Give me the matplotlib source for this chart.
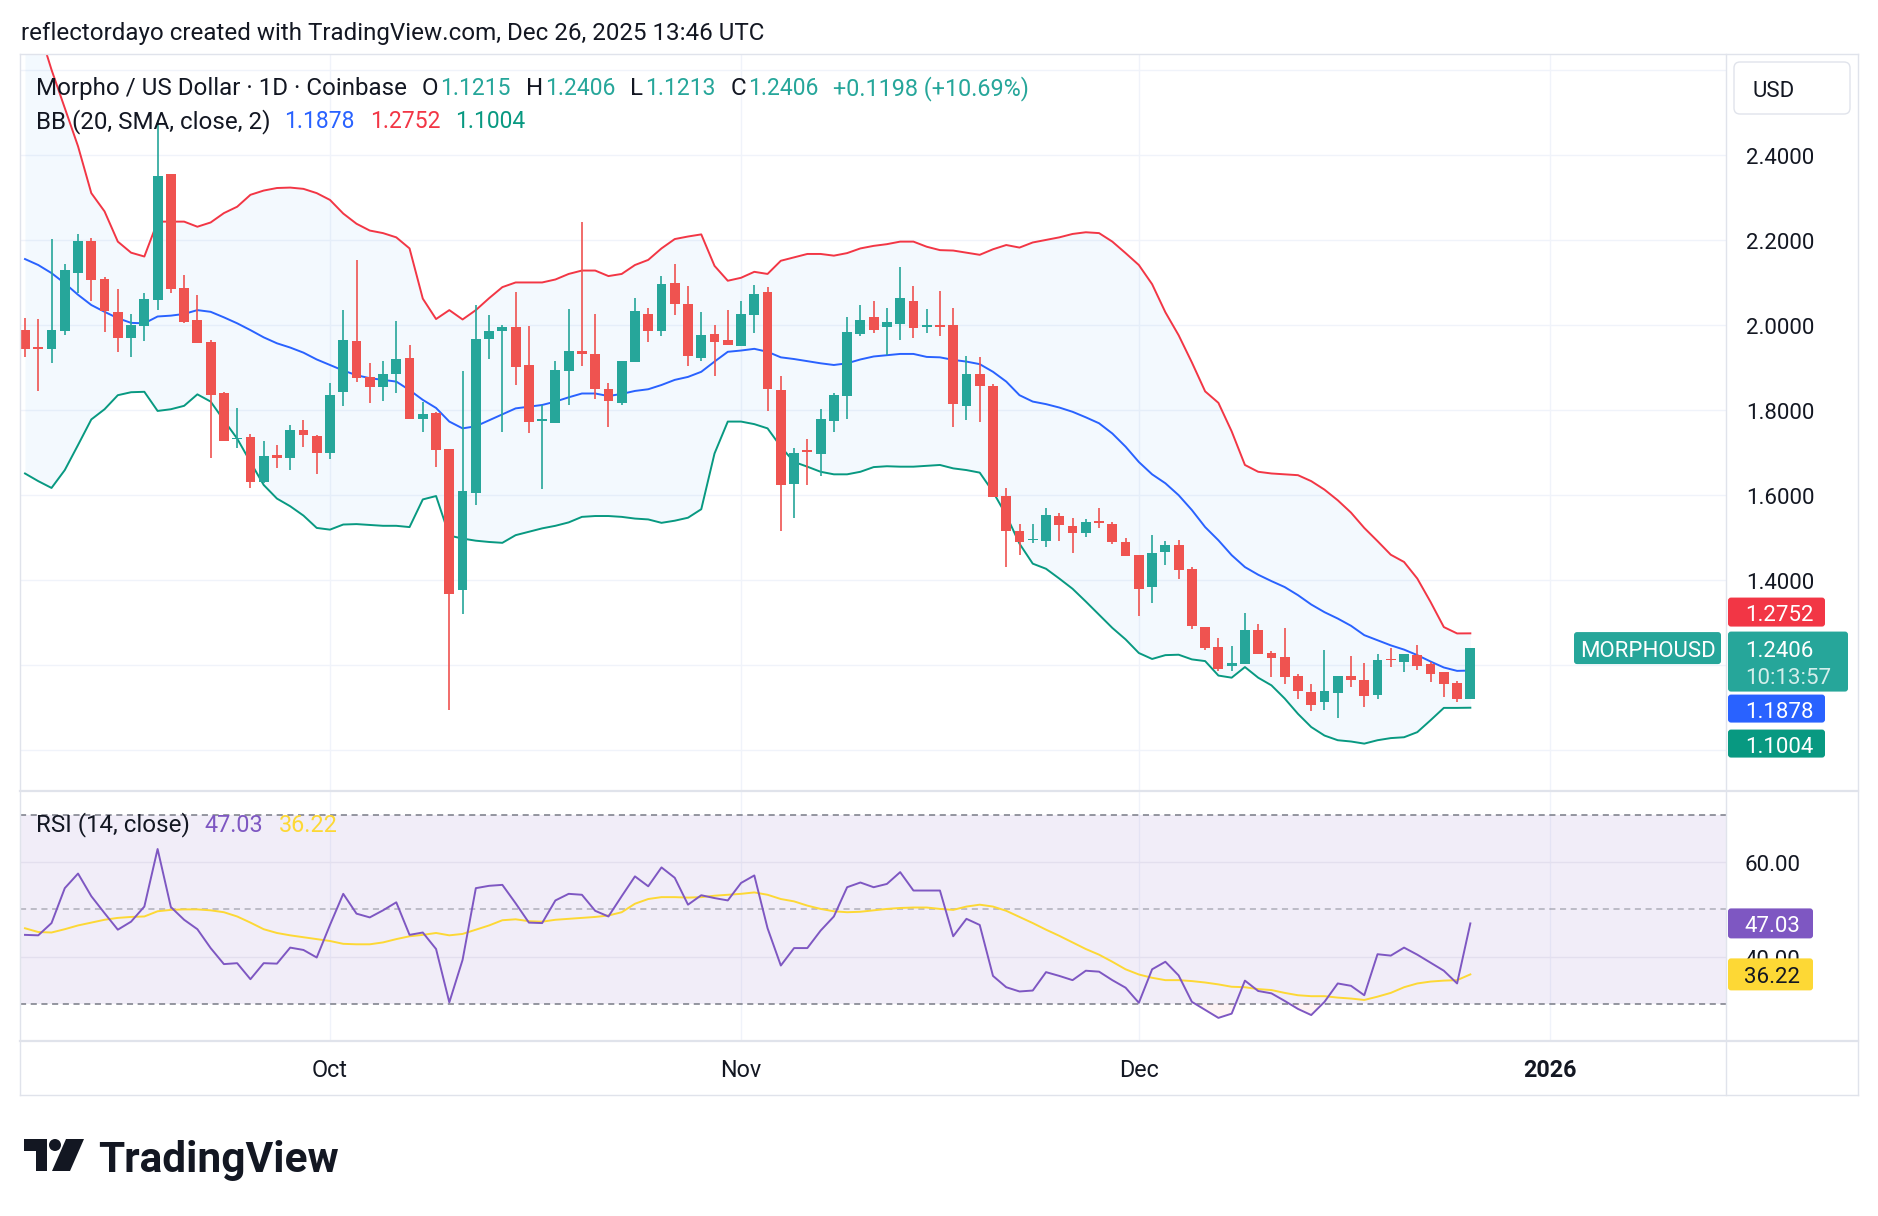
import numpy as np
import pandas as pd
import matplotlib
matplotlib.use('Agg')
import matplotlib.pyplot as plt
from matplotlib.patches import FancyBboxPatch, Circle, Polygon
from matplotlib.lines import Line2D

plt.rcParams['font.family'] = ['Roboto', 'DejaVu Sans']

# daily candles, Sep 8 -> Dec 26 2025 (MORPHOUSD, Coinbase)
dates = pd.date_range('2025-09-08', '2025-12-26', freq='D')

opens = [1.988, 1.948, 1.944, 1.987, 2.123, 2.198, 2.108, 2.031, 1.970, 1.998,
         2.059, 2.355, 2.086, 2.012, 1.961, 1.841, 1.731, 1.736, 1.631, 1.694,
         1.688, 1.753, 1.739, 1.700, 1.843, 1.962, 1.877, 1.855, 1.884, 1.922,
         1.780, 1.792, 1.708, 1.378, 1.605, 1.968, 1.987, 1.995, 1.906, 1.774,
         1.770, 1.892, 1.939, 1.932, 1.849, 1.817, 1.914, 2.027, 1.987, 2.099,
         2.049, 1.923, 1.978, 1.965, 1.951, 2.024, 2.078, 1.847, 1.626, 1.706,
         1.696, 1.775, 1.833, 1.980, 2.019, 1.996, 2.002, 2.056, 1.996, 1.999,
         2.000, 1.810, 1.885, 1.857, 1.598, 1.515, 1.494, 1.493, 1.551, 1.527,
         1.510, 1.539, 1.533, 1.489, 1.459, 1.383, 1.467, 1.482, 1.427, 1.290,
         1.242, 1.198, 1.204, 1.282, 1.230, 1.220, 1.175, 1.137, 1.114, 1.136,
         1.175, 1.166, 1.131, 1.214, 1.209, 1.224, 1.202, 1.184, 1.158, 1.1215]
highs = [2.016, 2.013, 2.202, 2.143, 2.213, 2.204, 2.114, 2.085, 2.027, 2.075,
         2.481, 2.356, 2.118, 2.071, 1.965, 1.842, 1.804, 1.744, 1.727, 1.718,
         1.765, 1.776, 1.741, 1.864, 2.035, 2.153, 1.910, 1.915, 2.009, 1.953,
         1.819, 1.796, 1.708, 1.892, 2.047, 2.024, 2.000, 2.078, 1.998, 1.812,
         1.915, 2.038, 2.242, 2.027, 1.863, 1.915, 2.063, 2.039, 2.115, 2.144,
         2.092, 2.030, 2.000, 2.035, 2.056, 2.094, 2.089, 1.880, 1.712, 1.733,
         1.802, 1.839, 2.018, 2.046, 2.056, 2.039, 2.136, 2.092, 2.038, 2.080,
         2.039, 1.927, 1.924, 1.861, 1.616, 1.533, 1.532, 1.571, 1.557, 1.547,
         1.543, 1.569, 1.537, 1.500, 1.459, 1.506, 1.493, 1.494, 1.430, 1.290,
         1.264, 1.245, 1.323, 1.297, 1.233, 1.288, 1.179, 1.156, 1.235, 1.176,
         1.222, 1.205, 1.226, 1.241, 1.226, 1.249, 1.209, 1.184, 1.164, 1.2406]
lows = [1.925, 1.845, 1.911, 1.976, 2.076, 2.057, 1.984, 1.937, 1.925, 1.963,
        2.035, 2.075, 2.004, 1.957, 1.688, 1.727, 1.711, 1.616, 1.628, 1.663,
        1.660, 1.714, 1.649, 1.685, 1.809, 1.867, 1.816, 1.821, 1.839, 1.779,
        1.749, 1.667, 1.094, 1.320, 1.578, 1.920, 1.749, 1.859, 1.747, 1.615,
        1.770, 1.813, 1.904, 1.826, 1.761, 1.812, 1.914, 1.961, 1.973, 2.024,
        1.904, 1.916, 1.881, 1.954, 1.951, 1.982, 1.798, 1.516, 1.547, 1.624,
        1.645, 1.749, 1.779, 1.973, 1.982, 1.929, 1.965, 1.970, 1.982, 1.973,
        1.761, 1.776, 1.773, 1.596, 1.431, 1.459, 1.488, 1.478, 1.492, 1.463,
        1.502, 1.522, 1.486, 1.456, 1.315, 1.347, 1.437, 1.404, 1.286, 1.235,
        1.187, 1.187, 1.204, 1.227, 1.173, 1.157, 1.122, 1.093, 1.096, 1.077,
        1.149, 1.102, 1.120, 1.195, 1.184, 1.190, 1.161, 1.125, 1.114, 1.1213]
closes = [1.944, 1.944, 1.988, 2.129, 2.198, 2.106, 2.033, 1.970, 2.000, 2.060,
          2.351, 2.085, 2.007, 1.958, 1.835, 1.728, 1.735, 1.631, 1.693, 1.688,
          1.753, 1.741, 1.700, 1.835, 1.965, 1.876, 1.855, 1.885, 1.920, 1.780,
          1.791, 1.706, 1.368, 1.609, 1.967, 1.986, 1.995, 1.902, 1.773, 1.777,
          1.894, 1.939, 1.931, 1.849, 1.821, 1.915, 2.033, 1.987, 2.096, 2.049,
          1.928, 1.976, 1.961, 1.954, 2.027, 2.073, 1.849, 1.625, 1.700, 1.702,
          1.779, 1.835, 1.984, 2.012, 1.988, 2.006, 2.063, 1.994, 1.999, 1.996,
          1.815, 1.885, 1.857, 1.596, 1.515, 1.490, 1.498, 1.553, 1.529, 1.511,
          1.536, 1.535, 1.489, 1.456, 1.380, 1.465, 1.482, 1.423, 1.293, 1.241,
          1.192, 1.205, 1.282, 1.227, 1.218, 1.173, 1.139, 1.107, 1.140, 1.175,
          1.165, 1.128, 1.213, 1.212, 1.226, 1.198, 1.179, 1.157, 1.1208, 1.2406]

# Bollinger Bands (20, SMA, close, 2)
bb_upper = [2.80, 2.70, 2.60, 2.51, 2.42, 2.31, 2.267, 2.196, 2.170, 2.161,
            2.243, 2.243, 2.243, 2.231, 2.241, 2.263, 2.278, 2.306, 2.316, 2.322,
            2.323, 2.320, 2.310, 2.294, 2.262, 2.238, 2.222, 2.216, 2.206, 2.180,
            2.062, 2.014, 2.035, 2.013, 2.035, 2.063, 2.089, 2.100, 2.100, 2.100,
            2.107, 2.120, 2.128, 2.128, 2.115, 2.120, 2.141, 2.153, 2.180, 2.202,
            2.208, 2.213, 2.139, 2.104, 2.111, 2.125, 2.120, 2.151, 2.159, 2.167,
            2.167, 2.163, 2.169, 2.180, 2.186, 2.190, 2.196, 2.196, 2.184, 2.176,
            2.175, 2.170, 2.165, 2.178, 2.188, 2.182, 2.194, 2.200, 2.206, 2.214,
            2.218, 2.216, 2.196, 2.169, 2.141, 2.096, 2.030, 1.976, 1.912, 1.844,
            1.817, 1.750, 1.671, 1.655, 1.651, 1.649, 1.647, 1.633, 1.613, 1.588,
            1.559, 1.523, 1.492, 1.460, 1.443, 1.404, 1.349, 1.290, 1.275, 1.2752]
bb_mid = [2.155, 2.141, 2.122, 2.098, 2.071, 2.047, 2.031, 2.016, 2.005, 2.004,
          2.020, 2.022, 2.026, 2.035, 2.031, 2.018, 2.004, 1.988, 1.971, 1.957,
          1.947, 1.935, 1.919, 1.906, 1.893, 1.882, 1.875, 1.871, 1.867, 1.847,
          1.824, 1.805, 1.773, 1.757, 1.762, 1.776, 1.790, 1.804, 1.808, 1.812,
          1.820, 1.830, 1.839, 1.839, 1.833, 1.838, 1.845, 1.849, 1.859, 1.871,
          1.878, 1.890, 1.914, 1.937, 1.940, 1.944, 1.937, 1.924, 1.920, 1.915,
          1.910, 1.906, 1.910, 1.919, 1.926, 1.929, 1.932, 1.932, 1.925, 1.924,
          1.918, 1.914, 1.908, 1.890, 1.867, 1.835, 1.820, 1.814, 1.806, 1.796,
          1.783, 1.769, 1.745, 1.714, 1.678, 1.649, 1.628, 1.600, 1.565, 1.525,
          1.494, 1.459, 1.431, 1.413, 1.398, 1.384, 1.365, 1.343, 1.325, 1.310,
          1.293, 1.271, 1.259, 1.247, 1.237, 1.224, 1.209, 1.195, 1.187, 1.1878]
bb_lower = [1.651, 1.633, 1.617, 1.659, 1.718, 1.778, 1.802, 1.835, 1.842, 1.843,
            1.798, 1.802, 1.810, 1.837, 1.820, 1.776, 1.733, 1.678, 1.624, 1.592,
            1.574, 1.552, 1.523, 1.519, 1.531, 1.532, 1.530, 1.528, 1.528, 1.525,
            1.590, 1.598, 1.505, 1.498, 1.493, 1.490, 1.488, 1.506, 1.514, 1.522,
            1.528, 1.536, 1.549, 1.551, 1.551, 1.549, 1.545, 1.543, 1.535, 1.540,
            1.547, 1.567, 1.698, 1.773, 1.773, 1.767, 1.757, 1.714, 1.678, 1.667,
            1.655, 1.649, 1.649, 1.655, 1.666, 1.668, 1.667, 1.667, 1.669, 1.671,
            1.663, 1.659, 1.653, 1.608, 1.553, 1.486, 1.439, 1.427, 1.404, 1.380,
            1.350, 1.319, 1.288, 1.261, 1.229, 1.215, 1.224, 1.225, 1.214, 1.210,
            1.176, 1.171, 1.196, 1.171, 1.153, 1.122, 1.086, 1.055, 1.035, 1.024,
            1.021, 1.016, 1.024, 1.029, 1.031, 1.043, 1.071, 1.100, 1.100, 1.1004]

# RSI (14, close) and its moving average
rsi = [44.6, 44.5, 47.1, 54.5, 57.6, 52.8, 49.2, 45.7, 47.4, 50.6,
       62.8, 50.5, 47.8, 45.8, 41.8, 38.4, 38.6, 35.2, 38.6, 38.5,
       41.9, 41.4, 39.8, 46.7, 53.3, 49.1, 48.3, 49.8, 51.5, 44.6,
       45.1, 41.6, 30.3, 39.3, 54.5, 55.0, 55.2, 51.3, 47.2, 47.1,
       51.9, 53.3, 53.1, 49.7, 48.5, 52.8, 57.0, 54.9, 58.9, 56.7,
       51.0, 53.0, 52.4, 51.9, 55.6, 57.2, 46.0, 38.1, 41.8, 41.8,
       45.5, 48.5, 54.7, 55.7, 54.7, 55.4, 57.9, 54.0, 54.0, 54.0,
       44.3, 48.0, 46.7, 35.9, 33.5, 32.6, 32.8, 36.7, 35.9, 35.0,
       37.0, 36.8, 35.0, 33.4, 30.2, 37.3, 38.9, 36.0, 30.4, 28.7,
       27.0, 27.9, 34.9, 32.7, 32.2, 30.6, 28.9, 27.6, 30.4, 34.3,
       33.8, 31.8, 40.5, 40.2, 41.9, 40.4, 38.7, 37.0, 34.3, 47.03]
rsi_ma = [46.0, 45.2, 45.1, 45.8, 46.6, 47.2, 47.8, 48.2, 48.4, 48.5,
          49.6, 49.9, 50.0, 50.0, 49.8, 49.4, 48.5, 47.2, 45.8, 45.0,
          44.5, 44.1, 43.7, 43.3, 42.7, 42.6, 42.6, 43.0, 43.7, 44.3,
          44.6, 45.0, 44.5, 44.8, 45.7, 46.6, 47.7, 47.9, 47.5, 47.4,
          47.8, 48.0, 48.2, 48.4, 48.7, 49.4, 51.2, 52.2, 52.6, 52.6,
          52.5, 52.6, 52.9, 53.1, 53.3, 53.6, 53.1, 52.2, 51.7, 50.8,
          50.1, 49.6, 49.4, 49.5, 49.8, 50.1, 50.3, 50.4, 50.4, 50.1,
          49.9, 50.6, 51.0, 50.6, 49.7, 48.4, 47.1, 45.7, 44.4, 43.0,
          41.6, 40.4, 38.9, 37.3, 36.2, 35.5, 35.0, 35.0, 34.8, 34.5,
          34.1, 33.6, 33.5, 33.1, 32.9, 32.3, 31.8, 31.6, 31.6, 31.3,
          31.1, 30.8, 31.5, 32.3, 33.5, 34.3, 34.7, 34.9, 35.0, 36.22]

price_ticks = [1.4, 1.6, 1.8, 2.0, 2.2, 2.4]
month_labels = [('2025-10-01', 'Oct'), ('2025-11-01', 'Nov'), ('2025-12-01', 'Dec'), ('2026-01-01', '2026')]

UP = '#26a69a'
DOWN = '#ef5350'
DARK = '#131722'
GRID = '#f0f3fa'
BORDER = '#e0e3eb'
FS = 16      # scale / tag text
FL = 17.4    # legend / header text
FN = 16.5    # legend numbers
DY = 3.5     # text baseline nudge (px)

W, H = 1878, 1216
fig = plt.figure(figsize=(W / 100, H / 100), dpi=100)
fig.patch.set_facecolor('white')


def rect(x0, y0, x1, y1):
    # pixel box (top-left origin) -> figure fraction
    return [x0 / W, 1 - y1 / H, (x1 - x0) / W, (y1 - y0) / H]


def txt(xp, yd, s, **kw):
    # xp in px from left, yd in display px from bottom
    kw.setdefault('fontsize', FS)
    kw.setdefault('va', 'center')
    return fig.text(xp / W, (yd - DY) / H, s, **kw)


ax = fig.add_axes(rect(20, 54, 1726, 790))
rx = fig.add_axes(rect(20, 791, 1726, 1041))
for a in (ax, rx):
    a.set_axis_off()
    a.set_xlim(-0.377, 128.28)
ax.set_ylim(0.907, 2.637)
rx.set_ylim(22.1, 75.1)

o = np.array(opens)
hi = np.array(highs)
lo = np.array(lows)
c = np.array(closes)
x = np.arange(len(dates))
month_x = [(pd.Timestamp(d) - dates[0]).days for d, _ in month_labels]

# price pane
for v in np.arange(1.0, 2.65, 0.2):
    ax.axhline(v, color=GRID, lw=1.0, zorder=0)
for mx in month_x:
    ax.axvline(mx, color=GRID, lw=1.0, zorder=0)
    rx.axvline(mx, color=GRID, lw=1.0, zorder=0)

ax.fill_between(x, bb_lower, bb_upper, color='#2196f3', alpha=0.05, lw=0, zorder=1)
ax.plot(x, bb_upper, color='#f23645', lw=1.4, zorder=2)
ax.plot(x, bb_mid, color='#2962ff', lw=1.4, zorder=2)
ax.plot(x, bb_lower, color='#089981', lw=1.4, zorder=2)

cols = np.where(c >= o, UP, DOWN)
ax.vlines(x, lo, hi, colors=cols, lw=1.2, zorder=3)
ax.bar(x, np.maximum(np.abs(c - o), 0.004), bottom=np.minimum(o, c), width=0.74,
       color=cols, lw=0, zorder=4)

# rsi pane
rx.axhspan(30, 70, color='#7e57c2', alpha=0.1, lw=0, zorder=0)
for v in (40, 60):
    rx.axhline(v, color='#e3dfee', lw=1.0, zorder=0)
rx.axhline(70, color='#787b86', lw=1.1, dashes=(4, 3), zorder=1)
rx.axhline(30, color='#787b86', lw=1.1, dashes=(4, 3), zorder=1)
rx.axhline(50, color='#787b86', alpha=0.55, lw=1.1, dashes=(4, 3), zorder=1)
r = np.array(rsi)
rx.fill_between(x, r, 30, where=r < 30, interpolate=True, color='#f23645', alpha=0.06, lw=0)
rx.plot(x, rsi_ma, color='#fdd835', lw=1.4, zorder=2)
rx.plot(x, rsi, color='#7e57c2', lw=1.4, zorder=3)


# frame lines
def seg(x0, y0, x1, y1, color=BORDER, lw=1.0):
    fig.add_artist(Line2D([x0, x1], [H - y0, H - y1], transform=None, color=color, lw=lw))


seg(20, 54, 1858, 54)
seg(20, 1095, 1858, 1095)
seg(20, 54, 20, 1095)
seg(1858, 54, 1858, 1095)
seg(1726, 54, 1726, 1095)
seg(20, 790.5, 1858, 790.5, lw=1.6)
seg(20, 1041, 1858, 1041, lw=1.6)

# right scale labels
for v in price_ticks:
    txt(1746, ax.transData.transform((0, v))[1], f'{v:.4f}', color=DARK)
for v in (60, 40):
    txt(1744, rx.transData.transform((0, v))[1], f'{v:.2f}', color=DARK)

# time labels
for mx, (_, lab) in zip(month_x, month_labels):
    xd = ax.transData.transform((mx, 0))[0]
    txt(xd, H - 1067, lab, color=DARK, fontsize=16.8, ha='center',
        fontweight='bold' if lab == '2026' else 'normal')


def tag(x0, x1, yc, h, text, bg, fg='white', tx=1745, ha='left', rad=3):
    fig.add_artist(FancyBboxPatch((x0, yc - h / 2), x1 - x0, h,
                                  boxstyle=f'round,pad=0,rounding_size={rad}',
                                  transform=None, fc=bg, ec='none', zorder=5))
    if text:
        txt(tx, yc, text, color=fg, ha=ha, zorder=6)


last_y = ax.transData.transform((0, closes[-1]))[1]
tag(1728, 1848, last_y - 13.5, 60, '', UP)
txt(1745, last_y, f'{closes[-1]:.4f}', color='white', zorder=6)
txt(1745, last_y - 27, '10:13:57', color='#d4eeeb', zorder=6)
tag(1574, 1721, last_y, 32, 'MORPHOUSD', UP, tx=1647.5, ha='center')
tag(1728, 1825, last_y + 36, 29, f'{bb_upper[-1]:.4f}', '#f23645')
tag(1728, 1825, last_y - 60.5, 28, f'{bb_mid[-1]:.4f}', '#2962ff')
tag(1728, 1825, last_y - 95.5, 28, f'{bb_lower[-1]:.4f}', '#089981')

rsi_y = rx.transData.transform((0, rsi[-1]))[1]
ma_y = rx.transData.transform((0, rsi_ma[-1]))[1]
tag(1728, 1813, rsi_y, 30, f'{rsi[-1]:.2f}', '#7e57c2', tx=1744)
tag(1728, 1813, ma_y, 32, f'{rsi_ma[-1]:.2f}', '#fdd835', fg=DARK, tx=1744)

# USD box
fig.add_artist(FancyBboxPatch((1734, H - 114), 116, 52, boxstyle='round,pad=0,rounding_size=6',
                              transform=None, fc='white', ec=BORDER, lw=1.0, zorder=5))
txt(1752, H - 88, 'USD', color=DARK, zorder=6)

# header
txt(21, H - 30, 'reflectordayo created with TradingView.com, Dec 26, 2025 13:46 UTC',
    color=DARK, fontsize=FL)


def chain(x0, y0, parts):
    rend = fig.canvas.get_renderer()
    cur = x0
    for s, col, gap, size in parts:
        cur += gap
        t = txt(cur, H - y0, s, color=col, fontsize=size, ha='left', zorder=6)
        cur = t.get_window_extent(rend).x1


chg = closes[-1] - closes[-2]
chain(36, 85, [('Morpho / US Dollar · 1D · Coinbase', DARK, 0, FL),
               ('O', DARK, 15, FL), (f'{opens[-1]:.4f}', UP, 2, FN),
               ('H', DARK, 15, FL), (f'{highs[-1]:.4f}', UP, 2, FN),
               ('L', DARK, 15, FL), (f'{lows[-1]:.4f}', UP, 2, FN),
               ('C', DARK, 15, FL), (f'{closes[-1]:.4f}', UP, 2, FN),
               (f'+{chg:.4f} (+{chg / closes[-2] * 100:.2f}%)', UP, 14, 16.8)])
chain(36, 118.5, [('BB (20, SMA, close, 2)', DARK, 0, FL),
                  (f'{bb_mid[-1]:.4f}', '#2962ff', 14, FN),
                  (f'{bb_upper[-1]:.4f}', '#f23645', 15, FN),
                  (f'{bb_lower[-1]:.4f}', '#089981', 15, FN)])
chain(36, 821.5, [('RSI (14, close)', DARK, 0, FL),
                  (f'{rsi[-1]:.2f}', '#7e57c2', 15, 16.8),
                  (f'{rsi_ma[-1]:.2f}', '#fdd835', 15, 16.8)])

# TradingView logo
fig.add_artist(Polygon([(24, H - 1139), (47, H - 1139), (47, H - 1171), (36, H - 1171),
                        (36, H - 1151), (24, H - 1151)], closed=True, transform=None,
                       fc=DARK, ec='none'))
fig.add_artist(Circle((55, H - 1145), 6, transform=None, fc=DARK, ec='none'))
fig.add_artist(Polygon([(66, H - 1139), (84, H - 1139), (70, H - 1171), (52, H - 1171)],
                       closed=True, transform=None, fc=DARK, ec='none'))
txt(98, H - 1157, 'TradingView', color=DARK, fontsize=30.5, fontweight='bold', ha='left')

fig.savefig('out.png', dpi=100, facecolor='white')
